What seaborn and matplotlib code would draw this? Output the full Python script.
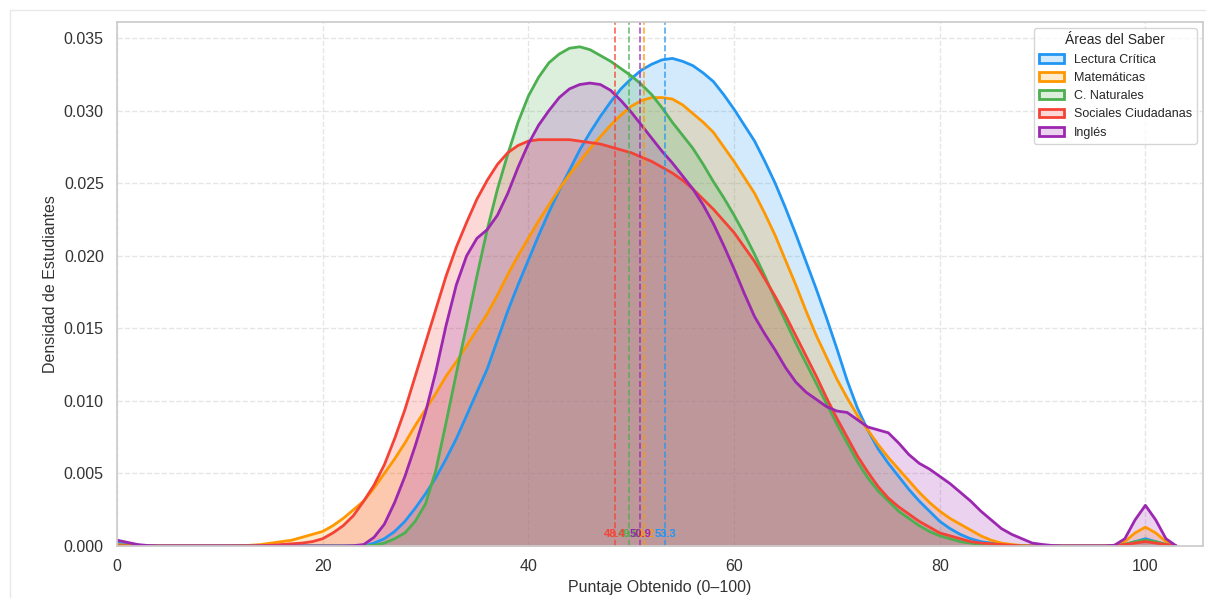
import matplotlib
matplotlib.use("Agg")
import matplotlib.pyplot as plt
from matplotlib.patches import Patch, Rectangle
import seaborn as sns

# Score grid (0-100 scale), one sample per point
puntajes = list(range(0, 104))

lectura = [
    0.0002, 0.0001, 0.00005, 0, 0, 0, 0, 0, 0, 0,
    0, 0, 0, 0, 0, 0, 0, 0, 0, 0,
    0, 0, 0, 0, 0.0, 0.0002, 0.0005, 0.0010, 0.0017, 0.0026,
    0.0036, 0.0047, 0.0060, 0.0074, 0.0090, 0.0106, 0.0122, 0.0142, 0.0162, 0.0180,
    0.0197, 0.0214, 0.0230, 0.0245, 0.0259, 0.0273, 0.0285, 0.0296, 0.0306, 0.0315,
    0.0322, 0.0328, 0.0332, 0.0335, 0.0336, 0.0334, 0.0331, 0.0326, 0.0320, 0.0311,
    0.0301, 0.0290, 0.0279, 0.0265, 0.0250, 0.0233, 0.0215, 0.0196, 0.0177, 0.0157,
    0.0136, 0.0114, 0.0095, 0.0080, 0.0067, 0.0057, 0.0048, 0.0039, 0.0031, 0.0024,
    0.0017, 0.0012, 0.0008, 0.0005, 0.0003, 0.0002, 0.0001, 0.00005, 0, 0,
    0, 0, 0, 0, 0, 0, 0, 0, 0.0001, 0.0003,
    0.0005, 0.0003, 0.0001, 0]

matematicas = [
    0.0001, 0.00005, 0, 0, 0, 0, 0, 0, 0, 0,
    0, 0, 0.00002, 0.00005, 0.0001, 0.0002, 0.0003, 0.0004, 0.0006, 0.0008,
    0.0010, 0.0014, 0.0019, 0.0025, 0.0031, 0.0040, 0.0050, 0.0060, 0.0071, 0.0083,
    0.0094, 0.0105, 0.0117, 0.0127, 0.0138, 0.0149, 0.0160, 0.0173, 0.0187, 0.0200,
    0.0212, 0.0224, 0.0235, 0.0246, 0.0256, 0.0265, 0.0274, 0.0282, 0.0290, 0.0297,
    0.0303, 0.0307, 0.0309, 0.0309, 0.0308, 0.0304, 0.0298, 0.0292, 0.0285, 0.0275,
    0.0265, 0.0254, 0.0243, 0.0229, 0.0214, 0.0197, 0.0180, 0.0162, 0.0145, 0.0130,
    0.0115, 0.0102, 0.0090, 0.0080, 0.0070, 0.0061, 0.0053, 0.0045, 0.0037, 0.0030,
    0.0024, 0.0019, 0.0015, 0.0011, 0.0007, 0.0004, 0.0002, 0.0001, 0.00003, 0,
    0, 0, 0, 0, 0, 0, 0, 0.00005, 0.0003, 0.0009,
    0.0013, 0.0009, 0.0003, 0]

naturales = [
    0, 0, 0, 0, 0, 0, 0, 0, 0, 0,
    0, 0, 0, 0, 0, 0, 0, 0, 0, 0,
    0, 0, 0, 0, 0, 0.00005, 0.0002, 0.0005, 0.0009, 0.0017,
    0.0029, 0.0052, 0.0085, 0.0119, 0.0152, 0.0186, 0.0218, 0.0246, 0.0270, 0.0292,
    0.0310, 0.0323, 0.0333, 0.0339, 0.0343, 0.0344, 0.0342, 0.0338, 0.0334, 0.0329,
    0.0324, 0.0318, 0.0311, 0.0302, 0.0292, 0.0283, 0.0274, 0.0263, 0.0251, 0.0240,
    0.0228, 0.0215, 0.0201, 0.0186, 0.0170, 0.0155, 0.0140, 0.0126, 0.0112, 0.0098,
    0.0084, 0.0071, 0.0058, 0.0047, 0.0038, 0.0031, 0.0024, 0.0019, 0.0014, 0.0010,
    0.0007, 0.0005, 0.0003, 0.0002, 0.0001, 0.00005, 0, 0, 0, 0,
    0, 0, 0, 0, 0, 0, 0, 0, 0.0001, 0.0003,
    0.0004, 0.0003, 0.0001, 0]

sociales = [
    0, 0, 0, 0, 0, 0, 0, 0, 0, 0,
    0, 0, 0, 0, 0.00002, 0.00005, 0.0001, 0.00015, 0.0002, 0.0003,
    0.0005, 0.0009, 0.0014, 0.0021, 0.0031, 0.0042, 0.0056, 0.0074, 0.0094, 0.0117,
    0.0140, 0.0163, 0.0186, 0.0206, 0.0223, 0.0239, 0.0252, 0.0263, 0.0271, 0.0276,
    0.0279, 0.0280, 0.0280, 0.0280, 0.0280, 0.0279, 0.0278, 0.0277, 0.0275, 0.0273,
    0.0271, 0.0268, 0.0265, 0.0261, 0.0257, 0.0252, 0.0246, 0.0239, 0.0232, 0.0224,
    0.0216, 0.0206, 0.0196, 0.0184, 0.0172, 0.0159, 0.0145, 0.0131, 0.0117, 0.0102,
    0.0088, 0.0075, 0.0062, 0.0051, 0.0041, 0.0033, 0.0027, 0.0022, 0.0017, 0.0013,
    0.0009, 0.0007, 0.0005, 0.0003, 0.0002, 0.00015, 0.0001, 0.00005, 0, 0,
    0, 0, 0, 0, 0, 0, 0, 0, 0.0001, 0.0002,
    0.0003, 0.0002, 0.0001, 0]

ingles = [
    0.0004, 0.00025, 0.0001, 0.00003, 0, 0, 0, 0, 0, 0,
    0, 0, 0, 0, 0, 0, 0, 0, 0, 0,
    0, 0, 0, 0.00002, 0.0001, 0.0006, 0.0015, 0.0030, 0.0048, 0.0069,
    0.0092, 0.0120, 0.0152, 0.0180, 0.0200, 0.0212, 0.0218, 0.0228, 0.0243, 0.0261,
    0.0277, 0.0290, 0.0300, 0.0309, 0.0315, 0.0318, 0.0319, 0.0318, 0.0314, 0.0307,
    0.0299, 0.0290, 0.0281, 0.0272, 0.0264, 0.0255, 0.0246, 0.0235, 0.0222, 0.0207,
    0.0191, 0.0174, 0.0158, 0.0146, 0.0135, 0.0123, 0.0113, 0.0106, 0.0101, 0.0096,
    0.0093, 0.0092, 0.0087, 0.0082, 0.0080, 0.0078, 0.0071, 0.0063, 0.0057, 0.0053,
    0.0048, 0.0043, 0.0037, 0.0031, 0.0024, 0.0018, 0.0012, 0.0008, 0.0005, 0.0002,
    0.0001, 0.00003, 0, 0, 0, 0, 0, 0.00005, 0.0005, 0.0018,
    0.0028, 0.0018, 0.0005, 0]

areas = ["Lectura Crítica", "Matemáticas", "C. Naturales", "Sociales Ciudadanas", "Inglés"]
densidades = [lectura, matematicas, naturales, sociales, ingles]
promedios = [53.3, 51.2, 49.8, 48.4, 50.9]
colores = ["#2196F3", "#FF9800", "#4CAF50", "#F44336", "#9C27B0"]

sns.set_theme(style="whitegrid")
plt.rcParams["font.family"] = ["Liberation Sans", "DejaVu Sans"]

fig = plt.figure(figsize=(12.06, 5.98), dpi=100)
ax = fig.add_axes([0.097, 0.087, 0.9005, 0.876])

for area, dens, color in zip(areas, densidades, colores):
    ax.fill_between(puntajes, dens, color=color, alpha=0.2, linewidth=0)
    sns.lineplot(x=puntajes, y=dens, color=color, linewidth=2, ax=ax,
                 solid_joinstyle="round")

for media, color in zip(promedios, colores):
    ax.axvline(media, color=color, linestyle="--", linewidth=1.2, alpha=0.8)
    ax.text(media, 0.0008, f"{media:.1f}", color=color, ha="center", va="center",
            fontsize=8, fontweight="bold")

ax.set_xlim(0, 105.6)
ax.set_ylim(0, 0.0361)
ax.set_xticks([0, 20, 40, 60, 80, 100])
ax.set_yticks([0.0, 0.005, 0.010, 0.015, 0.020, 0.025, 0.030, 0.035])
ax.set_yticklabels([f"{v:.3f}" for v in ax.get_yticks()])
ax.tick_params(labelsize=11.5, colors="#333333")
ax.grid(True, linestyle="--", alpha=0.5)
ax.set_xlabel("Puntaje Obtenido (0–100)", fontsize=11.5, color="#333333")
ax.set_ylabel("Densidad de Estudiantes", fontsize=11.5, color="#333333")
for spine in ax.spines.values():
    spine.set_color("#cccccc")

handles = [Patch(facecolor=matplotlib.colors.to_rgba(c, 0.2), edgecolor=c, linewidth=2, label=a)
           for a, c in zip(areas, colores)]
leg = ax.legend(handles=handles, title="Áreas del Saber", loc="upper right",
                fontsize=9, title_fontsize=10, frameon=True)
leg.get_frame().set_edgecolor("#cccccc")

fig.patches.append(Rectangle((10 / 1206, -0.1), 1.2, 1 - 10 / 598 + 0.1,
                             transform=fig.transFigure, fill=False,
                             edgecolor="#e8e8e8", linewidth=1))

fig.savefig("out.png", dpi=100)
